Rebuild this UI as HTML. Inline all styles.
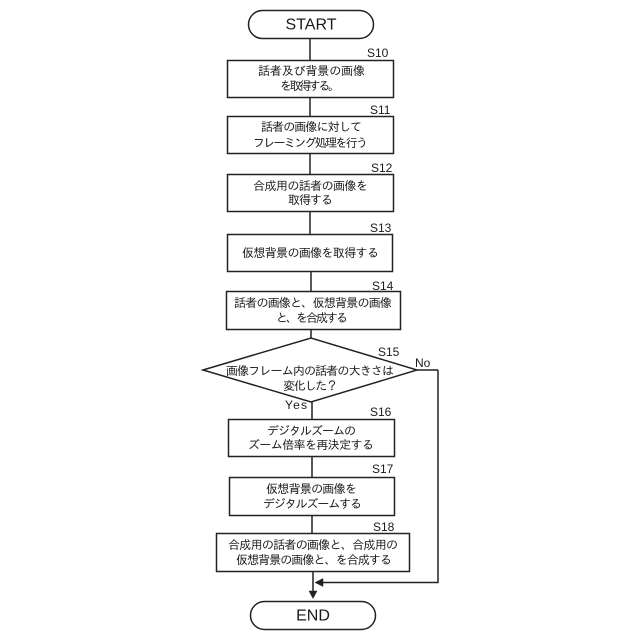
<!DOCTYPE html>
<html lang="ja">
<head>
<meta charset="utf-8">
<style>
html,body{margin:0;padding:0;background:#fff}
svg{display:block}
text{font-family:"Liberation Sans","IPAGothic","Noto Sans CJK JP",sans-serif;fill:#1a1a1a}
.t{font-size:12px;text-anchor:start}
.l{font-size:12px;text-anchor:start}
.b{font-size:16px;text-anchor:middle}
.s{fill:#fff;stroke:#222;stroke-width:1.5}
.c{fill:none;stroke:#222;stroke-width:1.5}
</style>
</head>
<body>
<svg width="640" height="640" viewBox="0 0 640 640" xmlns="http://www.w3.org/2000/svg">
<path class="c" d="M310 38V60M310 97V116M310 153V174M310 211V234M311 271V291M311 329V338M312 402V419M312 456V477M312 515V533M313 571V592M438 370H417M438 370V582.500H322"/>
<path d="M313 598.500L309 591H317Z" fill="#222" stroke="#222" stroke-width="0.5"/>
<path d="M315 582.500L323 578.500V586.500Z" fill="#222" stroke="#222" stroke-width="0.5"/>

<rect class="s" x="248.500" y="10.500" width="125" height="28" rx="14"/>
<text class="b" x="311" y="29.500">START</text>

<rect class="s" x="227.500" y="60.500" width="166" height="37"/>
<text class="t" x="258" y="75" textLength="107" lengthAdjust="spacing">話者及び背景の画像</text>
<text class="t" x="280" y="90" textLength="60" lengthAdjust="spacing">を取得する。</text>
<text class="l" x="367" y="57">S10</text>

<rect class="s" x="227.500" y="116.500" width="166" height="37"/>
<text class="t" x="261" y="131" textLength="101" lengthAdjust="spacing">話者の画像に対して</text>
<text class="t" x="253" y="147" textLength="115" lengthAdjust="spacing">フレーミング処理を行う</text>
<text class="l" x="370" y="114">S11</text>

<rect class="s" x="227.500" y="174.500" width="166" height="37"/>
<text class="t" x="253" y="190" textLength="115" lengthAdjust="spacing">合成用の話者の画像を</text>
<text class="t" x="288" y="204" textLength="45" lengthAdjust="spacing">取得する</text>
<text class="l" x="371" y="172">S12</text>

<rect class="s" x="227.500" y="234.500" width="165" height="37"/>
<text class="t" x="242" y="257" textLength="137" lengthAdjust="spacing">仮想背景の画像を取得する</text>
<text class="l" x="370" y="232">S13</text>

<rect class="s" x="226.500" y="291.500" width="174" height="38"/>
<text class="t" x="234" y="307" textLength="158" lengthAdjust="spacing">話者の画像と、仮想背景の画像</text>
<text class="t" x="276" y="322" textLength="72" lengthAdjust="spacing">と、を合成する</text>
<text class="l" x="372" y="290">S14</text>

<path class="s" d="M203 370L311 338L417 370L311 402Z"/>
<text class="t" x="226" y="375" textLength="168" lengthAdjust="spacing">画像フレーム内の話者の大きさは</text>
<text class="t" x="283" y="390" textLength="55" lengthAdjust="spacing">変化した？</text>
<text class="l" x="378" y="356">S15</text>
<text class="l" x="415" y="367">No</text>
<text class="l" x="285" y="409" textLength="22" lengthAdjust="spacing">Yes</text>

<rect class="s" x="228.500" y="419.500" width="166" height="37"/>
<text class="t" x="267" y="435" textLength="89" lengthAdjust="spacing">デジタルズームの</text>
<text class="t" x="248" y="449" textLength="126" lengthAdjust="spacing">ズーム倍率を再決定する</text>
<text class="l" x="370" y="416">S16</text>

<rect class="s" x="229.500" y="477.500" width="165" height="38"/>
<text class="t" x="266" y="493" textLength="91" lengthAdjust="spacing">仮想背景の画像を</text>
<text class="t" x="263" y="508" textLength="99" lengthAdjust="spacing">デジタルズームする</text>
<text class="l" x="372" y="473">S17</text>

<rect class="s" x="216.500" y="533.500" width="193" height="38"/>
<text class="t" x="228" y="549" textLength="170" lengthAdjust="spacing">合成用の話者の画像と、合成用の</text>
<text class="t" x="236" y="564" textLength="156" lengthAdjust="spacing">仮想背景の画像と、を合成する</text>
<text class="l" x="373" y="531">S18</text>

<rect class="s" x="250.500" y="601.500" width="125" height="28" rx="14"/>
<text class="b" x="313" y="620.500">END</text>
</svg>
</body>
</html>
